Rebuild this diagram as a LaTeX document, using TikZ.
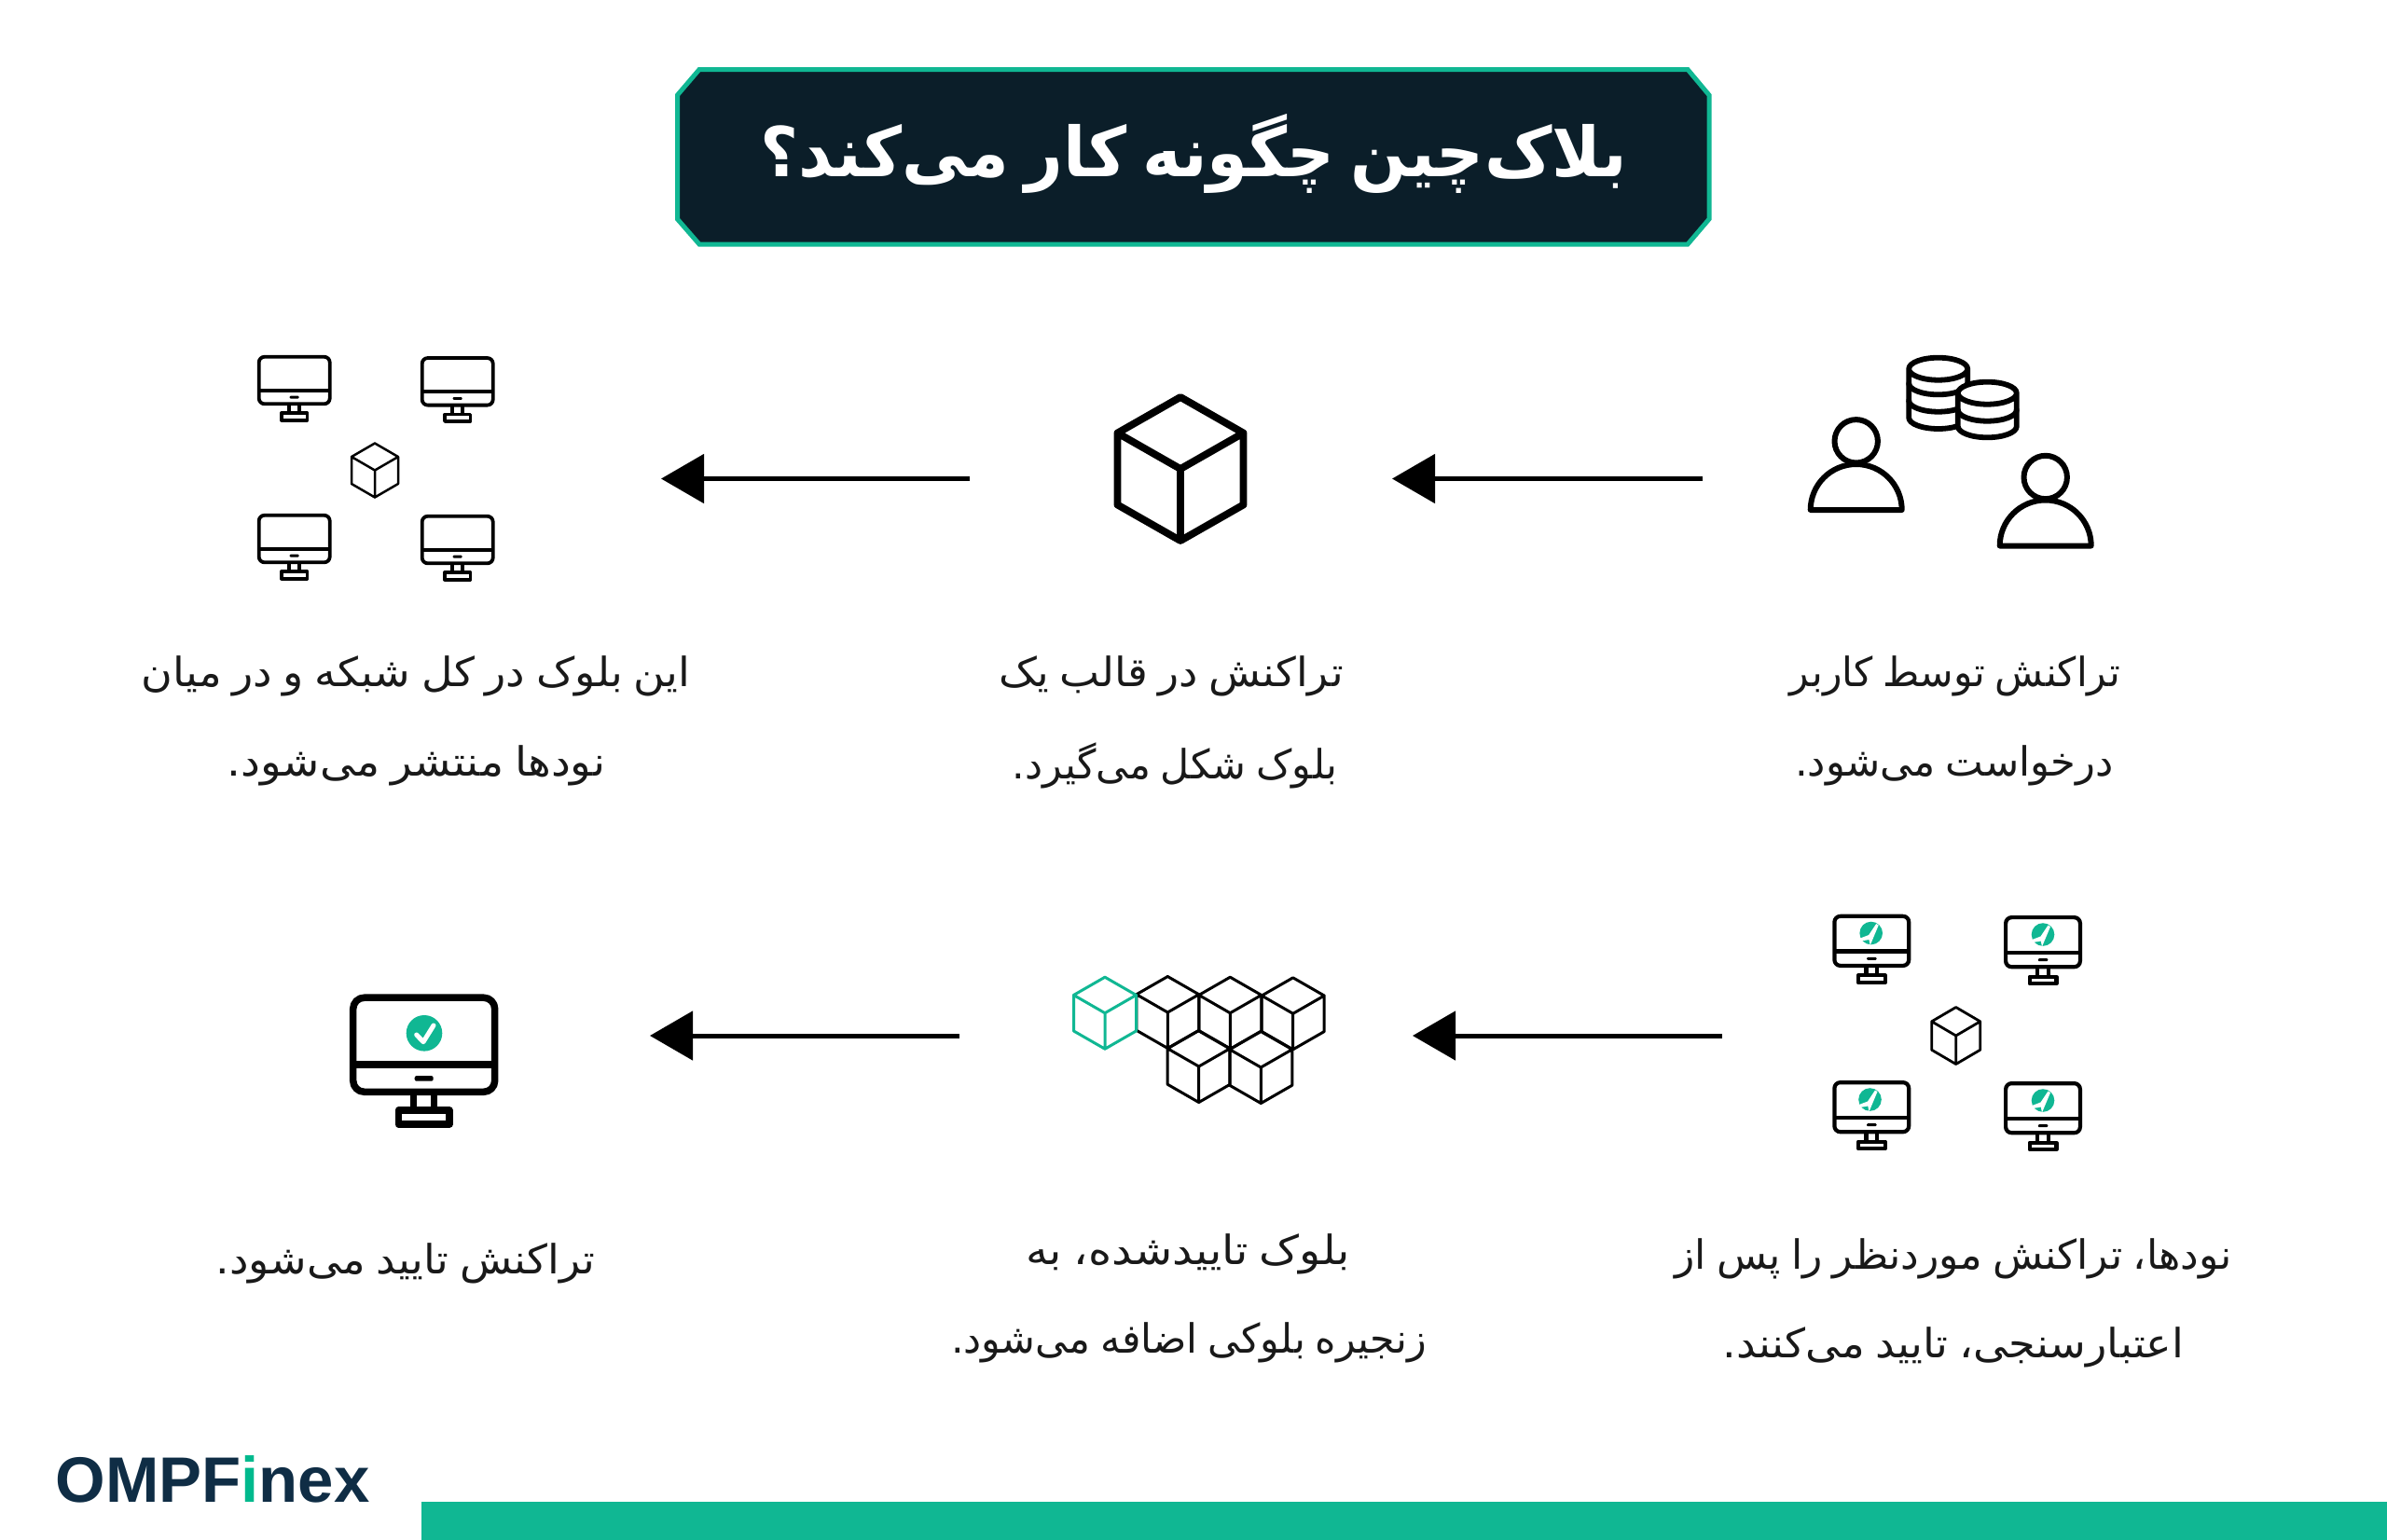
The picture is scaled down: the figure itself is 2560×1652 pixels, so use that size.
\documentclass[tikz,border=0pt]{standalone}
\usepackage{fontspec}
\usepackage{graphicx}
\usetikzlibrary{arrows.meta}
\TeXXeTstate=1
\newfontfamily\arabicfont[Script=Arabic,WordSpace=0.8]{DejaVu Sans}
\newfontfamily\arabicbold[Script=Arabic,WordSpace=0.7]{DejaVu Sans Bold}
\newfontfamily\logofont{Liberation Sans Bold}
\definecolor{brandteal}{HTML}{10B793}
\definecolor{titlebg}{HTML}{0B1E29}
\definecolor{logonavy}{HTML}{0F2D45}
\definecolor{logoteal}{HTML}{00B98D}
\tikzset{
  bodytext/.style={font=\arabicfont\fontsize{12.3}{14}\selectfont,text=black!90,inner sep=0pt,anchor=center},
  flowarrow/.style={line width=0.5mm,-{Triangle[length=4.6mm,width=5.2mm]}},
  iconline/.style={line width=#1,line join=round,line cap=round},
}
% horizontal fit factor for a line
\newcommand{\fitline}[2]{\scalebox{#1}[1]{#2}}
% monitor: centre x, top y, scale, line width
\newcommand{\deskicon}[4]{%
  \begin{scope}[shift={(#1,#2)},scale=#3]
    \draw[iconline=#4,rounded corners=#3*0.6mm] (-38,1.75) rectangle (38,52.3);
    \draw[iconline=#4,line cap=butt] (-38,37.7) -- (38,37.7);
    \fill[rounded corners=#3*0.1mm,black] (-5,43.7) rectangle (5,46.5);
    \draw[iconline=#4,line cap=butt] (-5.5,52.3) -- (-5.5,62.5) (5.5,52.3) -- (5.5,62.5);
    \draw[iconline=#4] (-13.7,62.2) rectangle (13.7,69.6);
  \end{scope}}
% cube: centre x, centre y, half width, half height, line width, colour
\newcommand{\cubeicon}[6]{%
  \begin{scope}[shift={(#1,#2)}]
    \draw[#6,line width=#5,line join=round,line cap=round]
      (0,-#4) -- (#3,-#4/2) -- (#3,#4/2) -- (0,#4) -- (-#3,#4/2) -- (-#3,-#4/2) -- cycle
      (-#3,-#4/2) -- (0,0) -- (#3,-#4/2) (0,0) -- (0,#4);
  \end{scope}}
% user: centre x, head y, base y
\newcommand{\usericon}[3]{%
  \draw[iconline=0.6mm] (#1,#2) circle[radius=23.2];
  \draw[iconline=0.6mm] (#1-49,#3) arc[start angle=180,end angle=0,radius=4.9mm] -- cycle;}
% green mark on screen
\newcommand{\screenmark}[2]{%
  \begin{scope}[shift={(#1,#2)}]
    \fill[brandteal] (0,0) circle[radius=12.3];
    \fill[white] (-13,6) -- (-2.5,2) -- (5.5,-10) -- (8,-8.5) -- (-1,13) -- (-2.2,7) -- (-11,8.5) -- cycle;
  \end{scope}}
\begin{document}
\begin{tikzpicture}[x=0.1mm,y=-0.1mm]
\useasboundingbox (0,0) rectangle (2560,1652);
\fill[white] (0,0) rectangle (2560,1652);

% title
\draw[fill=titlebg,draw=brandteal,line width=0.5mm,line join=miter]
  (750,74.5) -- (1810,74.5) -- (1833,102) -- (1833,235) -- (1810,262) -- (750,262) -- (726.5,235) -- (726.5,102) -- cycle;
\node[inner sep=0pt,text=white,font=\arabicbold\fontsize{21}{24}\selectfont] (title) at (1280,165)
  {\fitline{0.958}{\beginR بلاک‌چین چگونه کار می‌کند؟\endR}};

% users and coins
\usericon{1990.7}{473.3}{547}
\usericon{2193.7}{512}{585.5}
\draw[iconline=0.58mm,fill=white]
  (2047.2,395.7) -- (2047.2,448) arc[start angle=180,end angle=360,x radius=3.15mm,y radius=1.2mm] -- (2110.2,395.7)
  arc[start angle=0,end angle=180,x radius=3.15mm,y radius=1.2mm] arc[start angle=180,end angle=360,x radius=3.15mm,y radius=1.2mm];
\draw[iconline=0.58mm] (2047.2,411.3) arc[start angle=180,end angle=360,x radius=3.15mm,y radius=1.2mm]
  (2047.2,429.7) arc[start angle=180,end angle=360,x radius=3.15mm,y radius=1.2mm];
\draw[iconline=0.58mm,fill=white]
  (2099.8,421.7) -- (2099.8,457.3) arc[start angle=180,end angle=360,x radius=3.15mm,y radius=1.2mm] -- (2162.8,421.7)
  arc[start angle=0,end angle=180,x radius=3.15mm,y radius=1.2mm] arc[start angle=180,end angle=360,x radius=3.15mm,y radius=1.2mm];
\draw[iconline=0.58mm] (2099.8,439.7) arc[start angle=180,end angle=360,x radius=3.15mm,y radius=1.2mm];

% big cube
\cubeicon{1266}{503}{67.5}{77}{0.78mm}{black}

% network at top left
\deskicon{315.7}{381}{1}{0.38mm}
\deskicon{490.7}{382.3}{1}{0.38mm}
\deskicon{315.7}{551}{1}{0.38mm}
\deskicon{490.7}{552}{1}{0.38mm}
\cubeicon{402}{504.5}{25}{29}{0.25mm}{black}

% network at bottom right
\deskicon{2007.3}{981}{1.05}{0.42mm}
\deskicon{2191}{982.3}{1.05}{0.42mm}
\deskicon{2007.3}{1159.3}{1.05}{0.42mm}
\deskicon{2191}{1160.3}{1.05}{0.42mm}
\screenmark{2006.7}{1001}
\screenmark{2191}{1002.5}
\screenmark{2005.5}{1179.5}
\screenmark{2191}{1180.5}
\cubeicon{2097.7}{1111}{26}{30.5}{0.28mm}{black}

% chain of cubes
\cubeicon{1252.3}{1086}{33.5}{38.5}{0.3mm}{black}
\cubeicon{1319.3}{1086.7}{33.5}{38.5}{0.3mm}{black}
\cubeicon{1386.7}{1087.3}{33.5}{38.5}{0.3mm}{black}
\cubeicon{1285.7}{1144}{33.5}{38.5}{0.3mm}{black}
\cubeicon{1352.3}{1145}{33.5}{38.5}{0.3mm}{black}
\cubeicon{1185}{1086.7}{33.5}{38.5}{0.3mm}{brandteal}

% verified monitor
\deskicon{454.7}{1066.7}{2}{0.75mm}
\fill[brandteal] (455,1108.3) circle[radius=19.3];
\draw[white,line width=0.5mm,line cap=round,line join=round] (446.7,1110) -- (454,1117.7) -- (465,1100);

% arrows
\coordinate (a1s) at (1826,513.5); \coordinate (a1e) at (1493,513.5);
\coordinate (a2s) at (1040,513.5); \coordinate (a2e) at (709,513.5);
\coordinate (a3s) at (1847,1111); \coordinate (a3e) at (1515,1111);
\coordinate (a4s) at (1029,1111); \coordinate (a4e) at (697,1111);
\draw[flowarrow] (a1s) -- (a1e);
\draw[flowarrow] (a2s) -- (a2e);
\draw[flowarrow] (a3s) -- (a3e);
\draw[flowarrow] (a4s) -- (a4e);

% captions
\node[bodytext] (t1a) at (2097,725) {\fitline{0.982}{\beginR تراکنش توسط کاربر\endR}};
\node[bodytext] (t1b) at (2096,821) {\fitline{1}{\beginR درخواست می‌شود.\endR}};
\node[bodytext] (t2a) at (1256,725) {\fitline{1.056}{\beginR تراکنش در قالب یک\endR}};
\node[bodytext] (t2b) at (1260,821) {\fitline{0.99}{\beginR بلوک شکل می‌گیرد.\endR}};
\node[bodytext] (t3a) at (446,725) {\fitline{1.065}{\beginR این بلوک در کل شبکه و در میان\endR}};
\node[bodytext] (t3b) at (446.5,821) {\fitline{1.084}{\beginR نودها منتشر می‌شود.\endR}};
\node[bodytext] (t4a) at (2095,1350) {\fitline{1.02}{\beginR نودها، تراکنش موردنظر را پس از\endR}};
\node[bodytext] (t4b) at (2095,1445) {\fitline{1.07}{\beginR اعتبارسنجی، تایید می‌کنند.\endR}};
\node[bodytext] (t5a) at (1274,1345) {\fitline{1.11}{\beginR بلوک تاییدشده، به\endR}};
\node[bodytext] (t5b) at (1275,1440) {\fitline{0.99}{\beginR زنجیره بلوکی اضافه می‌شود.\endR}};
\node[bodytext] (t6a) at (435,1355) {\fitline{1.064}{\beginR تراکنش تایید می‌شود.\endR}};

% logo and bar
\node[anchor=base west,inner sep=0pt,text=logonavy,font=\logofont\fontsize{19.6}{24}\selectfont] (logo) at (59,1611.7)
  {OMPF\textcolor{logoteal}{i}nex};
\fill[brandteal] (451.7,1610.5) rectangle (2560,1652);
\end{tikzpicture}
\end{document}
